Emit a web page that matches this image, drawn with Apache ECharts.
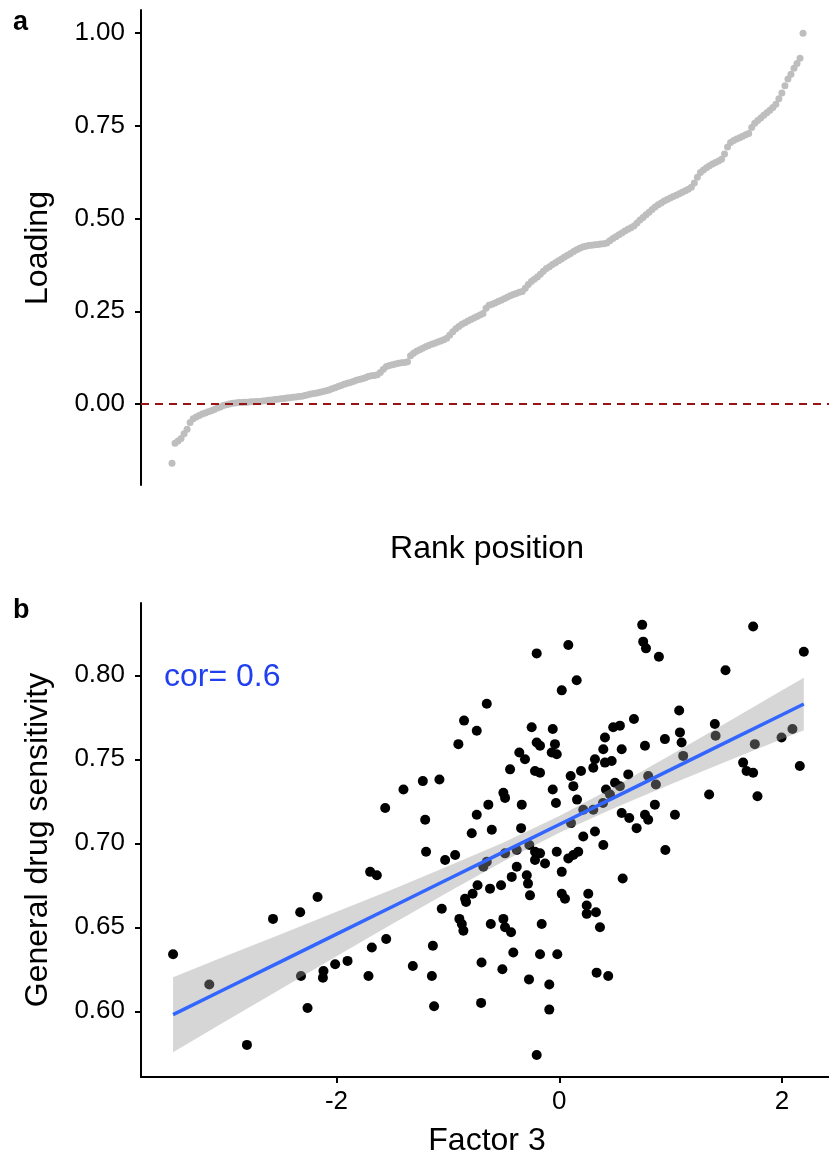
<!DOCTYPE html>
<html>
<head>
<meta charset="utf-8">
<script src="https://cdn.jsdelivr.net/npm/echarts@6/dist/echarts.min.js"></script>
<style>
  html, body { margin: 0; padding: 0; background: #ffffff; }
  #chart { width: 829px; height: 1160px; }
</style>
</head>
<body>
<div id="chart"></div>
<script>
// Panel a: factor loadings sorted by rank
const loadingSorted = [
  -0.160,-0.106,-0.100,-0.093,-0.080,-0.068,-0.050,-0.040,-0.035,-0.031,
  -0.027,-0.024,-0.021,-0.018,-0.015,-0.011,-0.008,-0.004,-0.002,0.000,
  0.002,0.003,0.004,0.004,0.005,0.005,0.006,0.006,0.007,0.007,
  0.008,0.009,0.010,0.011,0.012,0.013,0.014,0.015,0.016,0.017,
  0.018,0.019,0.020,0.021,0.023,0.025,0.027,0.028,0.030,0.032,
  0.034,0.036,0.038,0.041,0.044,0.047,0.050,0.053,0.056,0.058,
  0.061,0.064,0.066,0.068,0.071,0.074,0.076,0.077,0.079,0.085,
  0.094,0.101,0.104,0.106,0.108,0.110,0.111,0.112,0.114,0.130,
  0.137,0.142,0.146,0.150,0.154,0.158,0.161,0.164,0.167,0.170,
  0.173,0.177,0.186,0.195,0.203,0.209,0.215,0.219,0.224,0.228,
  0.232,0.236,0.240,0.244,0.258,0.266,0.269,0.272,0.276,0.280,
  0.284,0.288,0.292,0.295,0.298,0.301,0.303,0.312,0.322,0.330,
  0.336,0.342,0.350,0.358,0.365,0.370,0.376,0.381,0.386,0.391,
  0.396,0.401,0.406,0.411,0.416,0.420,0.423,0.425,0.427,0.428,
  0.429,0.430,0.431,0.432,0.434,0.440,0.446,0.451,0.456,0.461,
  0.466,0.471,0.475,0.480,0.488,0.496,0.503,0.510,0.517,0.524,
  0.531,0.537,0.542,0.547,0.551,0.555,0.559,0.563,0.567,0.571,
  0.575,0.579,0.584,0.596,0.611,0.624,0.631,0.637,0.642,0.647,
  0.651,0.655,0.660,0.674,0.693,0.705,0.710,0.714,0.718,0.722,
  0.726,0.729,0.745,0.757,0.764,0.771,0.778,0.785,0.792,0.799,
  0.808,0.823,0.838,0.858,0.876,0.889,0.905,0.918,0.932,0.999
];
const loadingTicks = [0, 0.25, 0.5, 0.75, 1.0];

// Panel b: factor 3 score vs general drug sensitivity per sample
const factor3 = [
  0.744,1.740,0.753,0.778,0.894,0.081,-0.203,2.195,1.492,0.156,
  0.022,-0.651,1.076,-0.855,-0.741,-0.906,0.670,1.396,1.403,1.083,
  1.098,1.995,2.093,1.755,1.112,-0.248,-0.059,-0.203,-0.173,-0.039,
  -0.068,-0.023,-0.359,-0.308,0.484,0.544,0.410,0.948,0.769,0.395,
  0.560,0.320,0.410,0.470,0.305,-0.442,-0.218,-0.173,-1.076,-1.225,
  -1.399,-1.563,-1.204,-0.741,-0.786,1.650,1.681,1.740,2.159,1.345,
  1.779,1.038,0.858,0.769,0.798,0.694,0.560,0.628,0.195,0.102,
  0.619,0.798,0.867,0.126,0.500,0.544,0.419,-0.059,-0.030,0.159,
  -0.502,-0.487,-0.337,-0.637,-0.606,-0.343,0.105,0.305,0.215,0.392,
  0.455,0.215,0.320,0.395,0.952,-0.023,0.170,0.126,0.081,0.022,
  0.569,0.022,0.260,-0.269,-0.382,-0.487,-0.651,-0.682,-1.196,-1.025,
  -0.935,-0.218,-0.173,-0.218,-0.128,-0.382,-0.427,-0.292,-0.281,-0.734,
  -0.622,-0.523,-0.778,-0.846,-0.263,0.051,0.246,0.246,0.329,0.365,
  -0.615,-0.502,-0.487,-0.433,-0.158,-0.413,-0.173,-0.018,-0.698,-0.511,
  -0.272,-0.090,0.335,0.439,-0.702,-0.090,-0.203,-1.698,-1.638,-2.170,
  -2.326,-2.570,-0.837,-1.055,-0.897,-0.875,-0.861,-1.554,-1.683,-1.135,
  -3.467,-1.901,-2.012,-2.117,-2.122,-2.319,-3.142,-1.315,-1.144,-1.713,
  -2.260,-1.124,-2.804
];
const sensitivity = [
  0.830,0.829,0.820,0.816,0.811,0.818,0.813,0.814,0.803,0.797,
  0.791,0.783,0.779,0.773,0.767,0.759,0.774,0.771,0.764,0.766,
  0.760,0.763,0.768,0.759,0.752,0.769,0.768,0.760,0.758,0.759,
  0.754,0.753,0.754,0.750,0.769,0.770,0.763,0.762,0.758,0.756,
  0.756,0.750,0.748,0.749,0.745,0.744,0.743,0.742,0.738,0.737,
  0.732,0.721,0.714,0.717,0.706,0.748,0.743,0.742,0.746,0.729,
  0.728,0.717,0.723,0.717,0.714,0.709,0.718,0.715,0.743,0.740,
  0.741,0.740,0.735,0.734,0.736,0.734,0.732,0.732,0.724,0.726,
  0.730,0.727,0.723,0.723,0.708,0.709,0.712,0.720,0.720,0.724,
  0.729,0.704,0.707,0.699,0.696,0.695,0.695,0.693,0.691,0.683,
  0.679,0.670,0.670,0.699,0.696,0.694,0.689,0.686,0.695,0.690,
  0.693,0.695,0.694,0.690,0.688,0.686,0.680,0.681,0.676,0.675,
  0.673,0.675,0.670,0.667,0.669,0.667,0.663,0.658,0.659,0.650,
  0.652,0.655,0.650,0.647,0.652,0.635,0.634,0.634,0.629,0.625,
  0.619,0.616,0.623,0.621,0.605,0.601,0.574,0.683,0.681,0.668,
  0.659,0.655,0.665,0.661,0.655,0.652,0.648,0.643,0.638,0.639,
  0.634,0.630,0.628,0.624,0.620,0.621,0.616,0.627,0.621,0.621,
  0.602,0.603,0.580
];

// Linear fit and its confidence band
const fitX      = [-3.467, -3.0, -2.5, -2.0, -1.5, -1.0, -0.5, 0.0, 0.5, 1.0, 1.5, 2.0, 2.195];
const fitY      = [0.5980, 0.6133, 0.6296, 0.6459, 0.6622, 0.6786, 0.6949, 0.7112, 0.7275, 0.7438, 0.7602, 0.7765, 0.7829];
const bandLower = [0.5757, 0.5939, 0.6133, 0.6327, 0.6519, 0.6709, 0.6893, 0.7062, 0.7212, 0.7351, 0.7487, 0.7621, 0.7673];
const bandUpper = [0.6203, 0.6327, 0.6459, 0.6592, 0.6725, 0.6863, 0.7005, 0.7162, 0.7338, 0.7525, 0.7717, 0.7910, 0.7985];

const sensTicks = [0.60, 0.65, 0.70, 0.75, 0.80];
const factorTicks = [-2, 0, 2];
const corLabel = 'cor= 0.6';

const FONT = '"Liberation Sans", Arial, Helvetica, sans-serif';
const BLACK = '#000000';
const TICK_FONT = 26;
const TITLE_FONT = 32;

const axisLineStyle = { show: true, onZero: false, lineStyle: { color: BLACK, width: 2 } };

const chart = echarts.init(document.getElementById('chart'), null, { renderer: 'canvas' });

function textEl(text, x, y, opts) {
  return Object.assign({
    type: 'text',
    x: x,
    y: y,
    silent: true,
    style: {
      text: text,
      x: 0,
      y: 0,
      fill: (opts && opts.fill) || BLACK,
      font: (opts && opts.font) || (TITLE_FONT + 'px ' + FONT),
      textAlign: (opts && opts.align) || 'center',
      textVerticalAlign: 'middle',
      align: (opts && opts.align) || 'center',
      verticalAlign: 'middle'
    }
  }, (opts && opts.rotation) ? { rotation: opts.rotation } : {});
}

const option = {
  animation: false,
  backgroundColor: '#ffffff',
  grid: [
    { left: 141, top: 10, right: 0, bottom: 675, outerBoundsMode: 'none', containLabel: false },
    { left: 141, top: 603, right: 0, bottom: 83, outerBoundsMode: 'none', containLabel: false }
  ],
  xAxis: [
    { gridIndex: 0, type: 'value', min: -9.27, max: 218.6, show: false },
    {
      gridIndex: 1, type: 'value', min: -3.755, max: 2.421,
      axisLine: axisLineStyle,
      axisTick: { show: true, inside: false, length: 6, customValues: factorTicks, lineStyle: { color: BLACK, width: 2 } },
      axisLabel: { customValues: factorTicks, margin: 12, color: BLACK, fontSize: TICK_FONT, fontFamily: FONT,
                   formatter: v => String(v) },
      splitLine: { show: false }
    }
  ],
  yAxis: [
    {
      gridIndex: 0, type: 'value', min: -0.2183, max: 1.062,
      axisLine: axisLineStyle,
      axisTick: { show: true, inside: false, length: 6, customValues: loadingTicks, lineStyle: { color: BLACK, width: 2 } },
      axisLabel: { customValues: loadingTicks, margin: 16, color: BLACK, fontSize: TICK_FONT, fontFamily: FONT,
                   formatter: v => Number(v).toFixed(2) },
      splitLine: { show: false }
    },
    {
      gridIndex: 1, type: 'value', min: 0.5609, max: 0.843,
      axisLine: axisLineStyle,
      axisTick: { show: true, inside: false, length: 6, customValues: sensTicks, lineStyle: { color: BLACK, width: 2 } },
      axisLabel: { customValues: sensTicks, margin: 16, color: BLACK, fontSize: TICK_FONT, fontFamily: FONT,
                   formatter: v => Number(v).toFixed(2) },
      splitLine: { show: false }
    }
  ],
  series: [
    {
      name: 'loading',
      type: 'scatter',
      xAxisIndex: 0, yAxisIndex: 0,
      data: loadingSorted.map((v, i) => [i + 1, v]),
      symbol: 'circle',
      symbolSize: 7,
      itemStyle: { color: '#BEBEBE', opacity: 1 },
      silent: true,
      z: 2,
      markLine: {
        silent: true,
        symbol: ['none', 'none'],
        label: { show: false },
        lineStyle: { color: '#981414', width: 2, type: [8, 6], opacity: 1 },
        data: [{ yAxis: 0 }],
        z: 5
      }
    },
    {
      name: 'samples',
      type: 'scatter',
      xAxisIndex: 1, yAxisIndex: 1,
      data: factor3.map((x, i) => [x, sensitivity[i]]),
      symbol: 'circle',
      symbolSize: 10,
      itemStyle: { color: BLACK, opacity: 1 },
      silent: true,
      z: 2
    },
    {
      name: 'band',
      type: 'custom',
      xAxisIndex: 1, yAxisIndex: 1,
      data: [[fitX[0], fitY[0]]],
      silent: true,
      z: 3,
      renderItem: function (params, api) {
        const pts = [];
        for (let i = 0; i < fitX.length; i++) pts.push(api.coord([fitX[i], bandUpper[i]]));
        for (let i = fitX.length - 1; i >= 0; i--) pts.push(api.coord([fitX[i], bandLower[i]]));
        return { type: 'polygon', shape: { points: pts }, style: { fill: 'rgba(153,153,153,0.4)', stroke: null } };
      }
    },
    {
      name: 'fit',
      type: 'line',
      xAxisIndex: 1, yAxisIndex: 1,
      data: fitX.map((x, i) => [x, fitY[i]]),
      showSymbol: false,
      symbol: 'none',
      smooth: false,
      lineStyle: { color: '#3366FF', width: 3.5, opacity: 1 },
      silent: true,
      z: 4
    }
  ],
  graphic: [
    textEl('a', 13, 23, { font: 'bold 27px ' + FONT, align: 'left' }),
    textEl('b', 13, 611, { font: 'bold 27px ' + FONT, align: 'left' }),
    textEl('Loading', 38, 248, { rotation: Math.PI / 2 }),
    textEl('Rank position', 487, 549),
    textEl('General drug sensitivity', 38, 840, { rotation: Math.PI / 2 }),
    textEl('Factor 3', 487, 1141),
    textEl(corLabel, 164, 677, { font: '32px ' + FONT, align: 'left', fill: '#1F3FF0' })
  ]
};

chart.setOption(option);
</script>
</body>
</html>
